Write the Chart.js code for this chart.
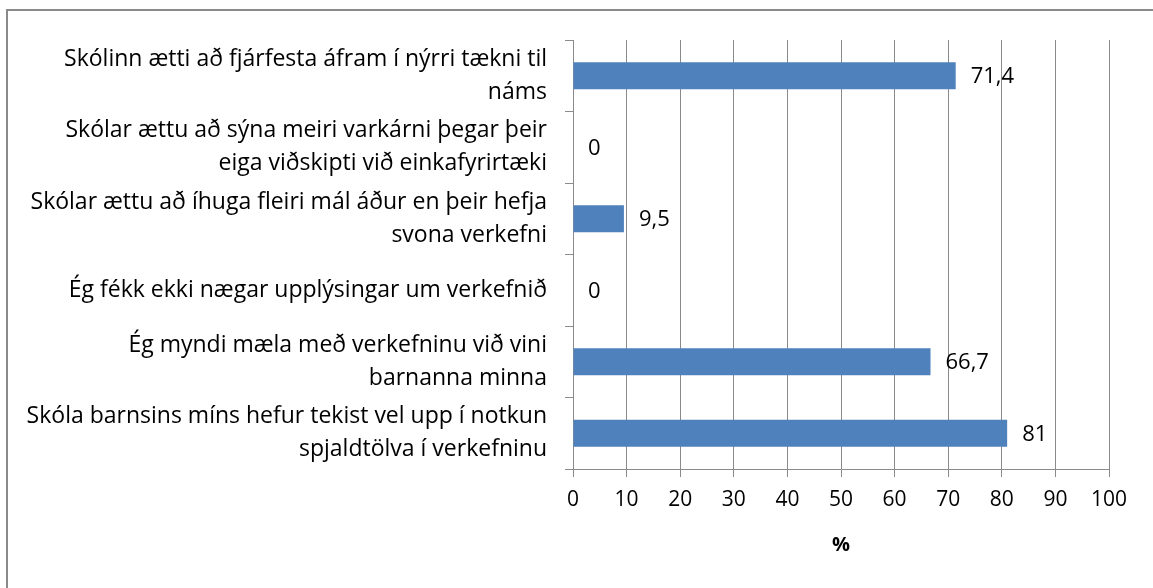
<!DOCTYPE html>
<html>
<head>
<meta charset="utf-8">
<script src="https://cdn.jsdelivr.net/npm/chart.js@4/dist/chart.umd.min.js"></script>
<style>
    html, body { margin: 0; padding: 0; background: #fff; overflow: hidden; }
    #frame {
        position: absolute;
        left: 6px;
        top: 9px;
        width: 1300px;
        height: 700px;
        border-left: 2px solid #8a8a8a;
        border-top: 2px solid #8a8a8a;
    }
    #chart { position: absolute; left: 0; top: 0; }
</style>
</head>
<body>
<div id="frame"></div>
<canvas id="chart" width="1153" height="588"></canvas>
<script>
// categories, top to bottom (each entry is a wrapped label)
const categories = [
    ['Skólinn ætti að fjárfesta áfram í nýrri tækni til', 'náms'],
    ['Skólar ættu að sýna meiri varkárni þegar þeir', 'eiga viðskipti við einkafyrirtæki'],
    ['Skólar ættu að íhuga fleiri mál áður en þeir hefja', 'svona verkefni'],
    ['Ég fékk ekki nægar upplýsingar um verkefnið'],
    ['Ég myndi mæla með verkefninu við vini', 'barnanna minna'],
    ['Skóla barnsins míns hefur tekist vel upp í notkun', 'spjaldtölva í verkefninu']
];
const values = [71.4, 0, 9.5, 0, 66.7, 81];
const xTicks = [0, 10, 20, 30, 40, 50, 60, 70, 80, 90, 100];
const xTitle = '%';

const fontFamily = '"Open Sans", "Noto Sans", sans-serif';
const gridColor = '#8a8a8a';

// draws the value next to each bar, with a decimal comma
const valueLabels = {
    id: 'valueLabels',
    afterDatasetsDraw(chart) {
        const ctx = chart.ctx;
        const meta = chart.getDatasetMeta(0);
        ctx.save();
        ctx.font = '22px ' + fontFamily;
        ctx.fillStyle = '#000';
        ctx.textBaseline = 'middle';
        ctx.textAlign = 'left';
        meta.data.forEach((bar, i) => {
            ctx.fillText(String(values[i]).replace('.', ','), bar.x + 15, bar.y + 1);
        });
        ctx.restore();
    }
};

new Chart(document.getElementById('chart').getContext('2d'), {
    type: 'bar',
    data: {
        labels: categories,
        datasets: [{
            data: values,
            backgroundColor: '#4f81bd',
            borderWidth: 0,
            categoryPercentage: 1,
            barPercentage: 0.38
        }]
    },
    options: {
        indexAxis: 'y',
        responsive: false,
        animation: false,
        layout: { padding: { top: 40, right: 44, bottom: 0, left: 0 } },
        plugins: {
            legend: { display: false },
            tooltip: { enabled: false }
        },
        scales: {
            x: {
                min: 0,
                max: 100,
                afterBuildTicks: scale => {
                    scale.ticks = xTicks.map(v => ({ value: v }));
                },
                afterFit: scale => {
                    scale.height = 119;
                    scale.paddingLeft = 0;
                    scale.paddingRight = 0;
                },
                grid: {
                    color: gridColor,
                    tickColor: gridColor,
                    tickLength: 8,
                    lineWidth: 1
                },
                border: { color: gridColor, width: 1 },
                ticks: {
                    color: '#000',
                    padding: 10,
                    maxRotation: 0,
                    font: { family: fontFamily, size: 21 }
                },
                title: {
                    display: true,
                    text: xTitle,
                    color: '#000',
                    padding: { top: 0, bottom: 31 },
                    font: { family: fontFamily, size: 20, weight: 'bold' }
                }
            },
            y: {
                afterFit: scale => {
                    scale.width = 573;
                    scale.paddingTop = 0;
                    scale.paddingBottom = 0;
                },
                grid: {
                    offset: true,
                    drawOnChartArea: false,
                    drawTicks: true,
                    tickLength: 8,
                    tickColor: gridColor,
                    color: gridColor
                },
                border: { color: gridColor, width: 1 },
                ticks: {
                    color: '#000',
                    padding: 18,
                    font: { family: fontFamily, size: 23, lineHeight: 1.43 }
                }
            }
        }
    },
    plugins: [valueLabels]
});
</script>
</body>
</html>
